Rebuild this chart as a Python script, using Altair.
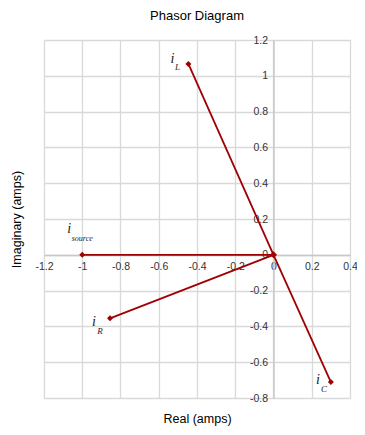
import altair as alt
import pandas as pd

names = ["L", "source", "R", "C"]
real = [-0.445, -1.0, -0.855, 0.300]
imag = [1.066, 0.0, -0.355, -0.711]

x_ticks = [-1.2, -1.0, -0.8, -0.6, -0.4, -0.2, 0.0, 0.2, 0.4]
y_ticks = [-0.8, -0.6, -0.4, -0.2, 0.0, 0.2, 0.4, 0.6, 0.8, 1.0, 1.2]

W, H = 306, 358
LINE = "#a00000"

df = pd.DataFrame({"name": names, "re": real, "im": imag})
df["zero"] = 0.0

label_expr = "toString(round(datum.value*10)/10)"

xs = alt.Scale(domain=[-1.2, 0.4], nice=False, zero=False)
ys = alt.Scale(domain=[-0.8, 1.2], nice=False, zero=False)

x_axis = alt.Axis(
    values=x_ticks, tickCount=30, labelExpr=label_expr, offset=-143, grid=True,
    gridColor="#d9d9d9", gridWidth=1.3, domainColor="#c8c8c8", domainWidth=1.5,
    ticks=False, labelPadding=6, labelFontSize=10.5, labelColor="#333333",
    labelOverlap=False, labelBound=False, labelFlush=False,
    labelFont="Liberation Sans", title="Real (amps)", titleFont="Liberation Sans",
    titleFontSize=12.5, titleFontWeight="normal", titleColor="#000000",
    titleY=157, titleBaseline="top",
)
y_axis = alt.Axis(
    values=y_ticks, tickCount=30, labelExpr=label_expr, offset=-229.5, grid=True,
    gridColor="#d9d9d9", gridWidth=1.3, domainColor="#c8c8c8", domainWidth=1.5,
    ticks=False, labelPadding=6, labelFontSize=10.5, labelColor="#333333",
    labelOverlap=False, labelBound=False, labelFlush=False,
    labelFont="Liberation Sans", title="Imaginary (amps)", titleFont="Liberation Sans",
    titleFontSize=12.5, titleFontWeight="normal", titleColor="#000000",
    titleX=-250, titleY=H / 2,
)

base = alt.Chart(df)

rules = base.mark_rule(color=LINE, strokeWidth=1.8).encode(
    x=alt.X("zero:Q", scale=xs, axis=x_axis),
    y=alt.Y("zero:Q", scale=ys, axis=y_axis),
    x2="re:Q",
    y2="im:Q",
)

tips = base.mark_point(shape="diamond", filled=True, color=LINE, size=36, opacity=1).encode(
    x=alt.X("re:Q", scale=xs), y=alt.Y("im:Q", scale=ys)
)
origin = alt.Chart(pd.DataFrame({"re": [0.0], "im": [0.0]})).mark_point(
    shape="diamond", filled=True, color=LINE, size=50, opacity=1
).encode(x=alt.X("re:Q", scale=xs), y=alt.Y("im:Q", scale=ys))

# label offsets (i, subscript) per phasor
offs = {
    "L": ((-16, -5), (-11, 3)),
    "source": ((-13, -26), (0, -16)),
    "R": ((-16, 4), (-10, 13)),
    "C": ((-13, -2), (-7, 7)),
}

layers = [rules, tips, origin]
for n in names:
    (dxi, dyi), (dxs, dys) = offs[n]
    sub = base.transform_filter(alt.datum.name == n)
    layers.append(
        sub.mark_text(text="i", font="Liberation Serif", fontStyle="italic",
                      fontSize=14, color="#222222", dx=dxi, dy=dyi).encode(
            x=alt.X("re:Q", scale=xs), y=alt.Y("im:Q", scale=ys))
    )
    layers.append(
        sub.mark_text(font="Liberation Serif", fontStyle="italic",
                      fontSize=8 if n == "source" else 9, color="#222222",
                      dx=dxs, dy=dys).encode(
            x=alt.X("re:Q", scale=xs), y=alt.Y("im:Q", scale=ys), text="name:N")
    )

chart = alt.layer(*layers).properties(
    width=W, height=H,
    title=alt.TitleParams("Phasor Diagram", font="Liberation Sans", fontSize=13,
                          fontWeight="normal", color="#000000", offset=12, anchor="middle"),
    autosize=alt.AutoSizeParams(type="none"),
    padding={"left": 36, "top": 32, "right": 7, "bottom": 29},
).configure_view(stroke="#c8c8c8", strokeWidth=1.5).configure(background="white")

chart.save("out.html", embed_options={"renderer": "svg", "actions": False})
